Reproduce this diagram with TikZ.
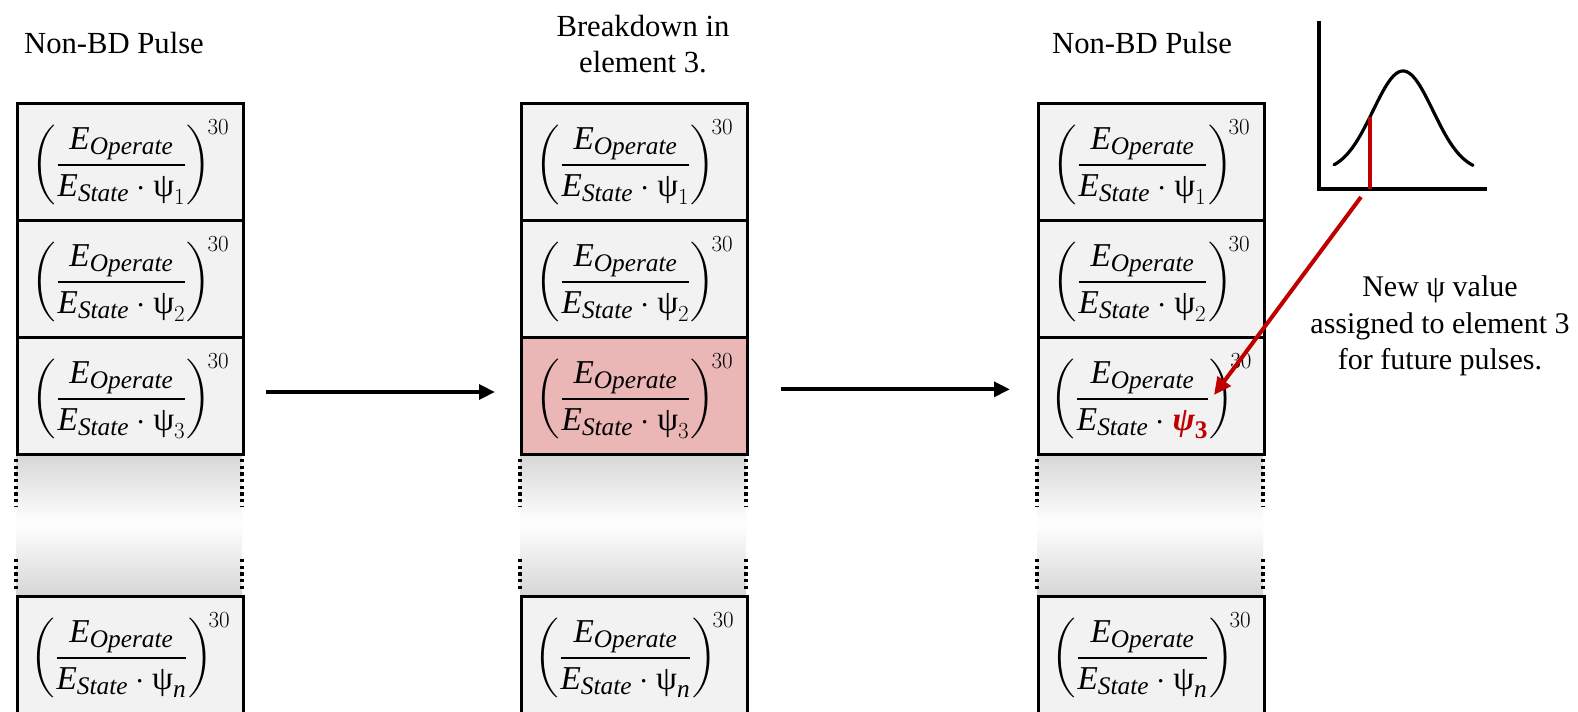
\documentclass[tikz,border=0pt]{standalone}
\usepackage{amsmath}
\usepackage{fontspec}
\setmainfont{Liberation Serif}
\usetikzlibrary{arrows.meta,calc}
\DeclareMathSizes{25}{25}{19}{14}
\definecolor{cellgray}{RGB}{242,242,242}
\definecolor{gapgray}{RGB}{214,214,214}
\definecolor{bdpink}{RGB}{235,182,182}
\definecolor{dred}{RGB}{192,0,0}
\newcommand{\ps}{\text{ψ}}
\newcommand{\frm}[1]{$\displaystyle\left(\frac{\mathit{E}_{\mathit{Operate}}}{\mathit{E}_{\mathit{State}}\cdot #1}\right)^{\!30}$}
\newcommand{\formfont}{\fontsize{25}{29}\selectfont}
\begin{document}
\begin{tikzpicture}[x=0.75pt,y=-0.75pt,
  cell/.style={draw=black, line width=2.25pt, fill=cellgray, minimum width=169.5pt,
    minimum height=87.75pt, inner sep=0pt, anchor=north west, font=\formfont},
  bdcell/.style={cell, fill=bdpink},
  dotline/.style={line width=2.4pt, dash pattern=on 2.4pt off 2.6pt},
  title/.style={font=\fontsize{23}{26.5}\selectfont, align=center},
  flow/.style={line width=3pt, -{Triangle[length=12pt,width=11pt]}},
  redflow/.style={draw=dred, line width=3pt, -{Triangle[length=13pt,width=12pt]}}
]
\clip (0,0) rectangle (1578,711);
\fill[white] (0,0) rectangle (1578,711);
% titles
\node[title, anchor=base] (t1) at (114,53) {Non-BD Pulse};
\node[title] (t2) at (643,44) {Breakdown in\\element 3.};
\node[title, anchor=base] (t3) at (1142,53) {Non-BD Pulse};
% columns
\foreach \c/\x in {1/16, 2/520, 3/1037} {
  \shade[top color=gapgray, bottom color=gapgray, middle color=white] (\x,453) rectangle (\x+226,595);
  \draw[dotline] (\x,459) -- (\x,506);
  \draw[dotline] (\x+226,459) -- (\x+226,506);
  \draw[dotline] (\x,559) -- (\x,590);
  \draw[dotline] (\x+226,559) -- (\x+226,590);
}
% column 1
\node[cell] (c1a) at (16,102) {\frm{\ps_{1}}};
\node[cell] (c1b) at (16,219) {\frm{\ps_{2}}};
\node[cell] (c1c) at (16,336) {\frm{\ps_{3}}};
\node[cell] (c1n) at (16,595) {\frm{\ps_{\mathit{n}}}};
% column 2
\node[cell] (c2a) at (520,102) {\frm{\ps_{1}}};
\node[cell] (c2b) at (520,219) {\frm{\ps_{2}}};
\node[bdcell] (c2c) at (520,336) {\frm{\ps_{3}}};
\node[cell] (c2n) at (520,595) {\frm{\ps_{\mathit{n}}}};
% column 3
\node[cell] (c3a) at (1037,102) {\frm{\ps_{1}}};
\node[cell] (c3b) at (1037,219) {\frm{\ps_{2}}};
\node[cell] (c3c) at (1037,336) {\frm{\textcolor{dred}{\text{\bfseries\itshape ψ}_{\text{\bfseries 3}}}}};
\node[cell] (c3n) at (1037,595) {\frm{\ps_{\mathit{n}}}};
% flow arrows
\draw[flow, shorten <=21pt*0.75, shorten >=25pt*0.75] ([yshift=3pt]c1c.east) -- ([yshift=3pt]c2c.west);
\draw[flow, shorten <=32pt*0.75, shorten >=27pt*0.75] ([yshift=5pt]c2c.east) -- ([yshift=5pt]c3c.west);
% distribution plot
\coordinate (ax0) at (1319,189);
\coordinate (axtop) at (1319,21);
\coordinate (axright) at (1487,189);
\draw[line width=3pt] (axtop) -- (ax0) -- (axright);
\draw[line width=2.4pt, line cap=round, domain=1334:1473, samples=80, smooth]
  plot (\x, {172-101*exp(-((\x-1403)*(\x-1403))/(2*900))});
\coordinate (redtop) at (1370,117);
\coordinate (redbot) at (1370,189);
\draw[dred, line width=2.4pt] (redbot) -- (redtop);
\coordinate (rtail) at (1361,197);
\coordinate (rtip) at (1214,395);
\draw[redflow] (rtail) -- (rtip);
% note
\node[title, font=\fontsize{22.5}{27.4}\selectfont] (note) at (1440,326) {New \text{ψ} value\\assigned to element 3\\for future pulses.};
\end{tikzpicture}
\end{document}
